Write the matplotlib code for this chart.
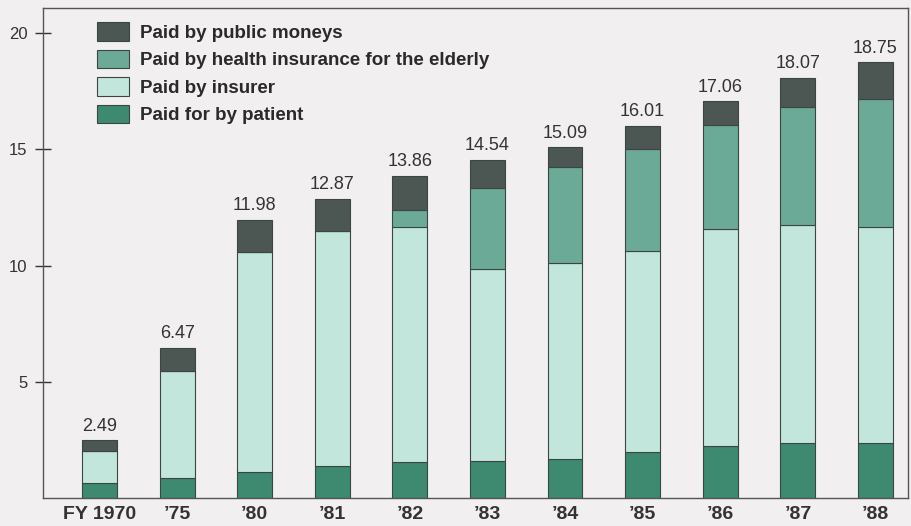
import numpy as np
import matplotlib
matplotlib.use("Agg")
from matplotlib import pyplot as plt

# data (trillion yen)
years = ['FY 1970', '’75', '’80', '’81', '’82', '’83', '’84', '’85', '’86', '’87', '’88']
patient = [0.66, 0.85, 1.13, 1.37, 1.54, 1.61, 1.69, 1.97, 2.24, 2.37, 2.37]
insurer = [1.36, 4.62, 9.45, 10.12, 10.12, 8.25, 8.43, 8.65, 9.34, 9.37, 9.28]
elderly = [0, 0, 0, 0, 0.73, 3.48, 4.14, 4.40, 4.46, 5.06, 5.52]
public = [0.47, 1.00, 1.40, 1.38, 1.47, 1.20, 0.83, 0.99, 1.02, 1.27, 1.58]
totals = ['2.49', '6.47', '11.98', '12.87', '13.86', '14.54', '15.09', '16.01', '17.06', '18.07', '18.75']

series = [
    ('Paid for by patient', patient, '#3d8a70'),
    ('Paid by insurer', insurer, '#c3e6dc'),
    ('Paid by health insurance for the elderly', elderly, '#6caa98'),
    ('Paid by public moneys', public, '#4c5652'),
]

plt.rcParams['font.family'] = ['Liberation Sans', 'DejaVu Sans']
bg = '#f1efef'
edge = '#3b4541'

fig = plt.figure(figsize=(9.12, 5.26), dpi=100, facecolor=bg)
ax = fig.add_axes([43.3 / 912, 28 / 526, (908 - 43.3) / 912, 490 / 526])
ax.set_facecolor(bg)

x = np.arange(len(years))
bottom = np.zeros(len(years))
handles = []
for name, vals, col in series:
    bars = ax.bar(x, vals, width=0.45, bottom=bottom, color=col,
                  edgecolor=edge, linewidth=0.8, label=name)
    handles.append(bars)
    bottom = bottom + np.array(vals)

ax.bar_label(handles[-1], labels=totals, padding=4, fontsize=13, color='#333333')

ax.set_xlim(-0.724, 10.42)
ax.set_ylim(0, 21.08)
ax.set_yticks([5, 10, 15, 20])
ax.tick_params(axis='y', direction='inout', length=11, width=1, pad=6,
               labelsize=12, colors='#333333')
ax.set_xticks(x)
ax.set_xticklabels(years, fontsize=14, fontweight='bold', color='#333333')
ax.tick_params(axis='x', length=0, pad=6)

for s in ax.spines.values():
    s.set_color('#555555')
    s.set_linewidth(1)

leg = ax.legend(handles=handles[::-1], loc='upper left',
                bbox_to_anchor=((97 - 43.3) / 864.7, (498 - 22) / 490),
                frameon=False, borderpad=0, borderaxespad=0,
                handlelength=1.7, handleheight=1.15, handletextpad=0.6,
                labelspacing=0.42,
                prop={'size': 13.5, 'weight': 'bold'})
for t in leg.get_texts():
    t.set_color('#2a2a2a')

fig.savefig('out.png', dpi=100, facecolor=bg)
